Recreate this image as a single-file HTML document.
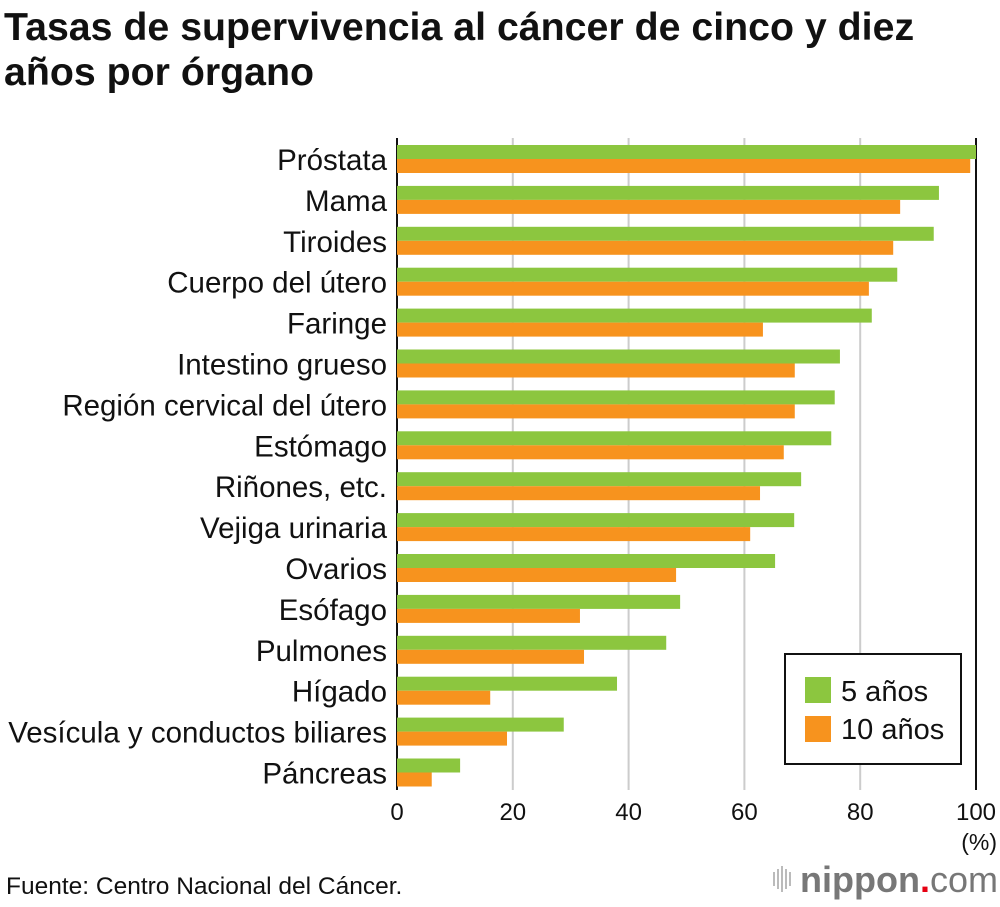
<!DOCTYPE html>
<html><head><meta charset="utf-8"><style>
body{margin:0;background:#fff;width:1000px;height:902px;overflow:hidden;font-family:"Liberation Sans",sans-serif}
</style></head><body>
<svg width="1000" height="902" xmlns="http://www.w3.org/2000/svg" id="svg">
<text x="4" y="40" font-size="39.3" font-weight="bold" fill="#111">Tasas de supervivencia al cáncer de cinco y diez</text>
<text x="4" y="85" font-size="39.3" font-weight="bold" fill="#111">años por órgano</text>
<g id="grid"></g><g id="bars"></g><g id="labels"></g><g id="ticks"></g>
<text x="997" y="850" font-size="23" text-anchor="end" fill="#111">(%)</text>
<g>
<rect x="785" y="654" width="176" height="110" fill="#fff" stroke="#111" stroke-width="2"/>
<rect x="805" y="677" width="26" height="26" fill="#8cc63f"/>
<text x="841" y="701" font-size="29" fill="#111">5 años</text>
<rect x="805" y="716" width="26" height="26" fill="#f7931e"/>
<text x="841" y="739" font-size="29" fill="#111">10 años</text>
</g>
<text x="6" y="894" font-size="24.5" fill="#111">Fuente: Centro Nacional del Cáncer.</text>
<g>
<rect x="773" y="872" width="2" height="14" fill="#bbb"/><rect x="777" y="869" width="2" height="20" fill="#bbb"/><rect x="781" y="866" width="2" height="26" fill="#bbb"/><rect x="785" y="869" width="2" height="20" fill="#bbb"/><rect x="789" y="872" width="2" height="14" fill="#bbb"/>
<text x="800" y="892" font-size="36" font-weight="bold" fill="#777">nippon<tspan fill="#e60012">.</tspan><tspan font-weight="normal">com</tspan></text>
</g>
</svg>
<script>
const categories=["Próstata","Mama","Tiroides","Cuerpo del útero","Faringe","Intestino grueso","Región cervical del útero","Estómago","Riñones, etc.","Vejiga urinaria","Ovarios","Esófago","Pulmones","Hígado","Vesícula y conductos biliares","Páncreas"];
const five=[100,93.6,92.7,86.4,82.0,76.5,75.6,75.0,69.8,68.6,65.3,48.9,46.5,38.0,28.8,10.9];
const ten=[99.0,86.9,85.7,81.5,63.2,68.7,68.7,66.8,62.7,61.0,48.2,31.6,32.3,16.1,19.0,6.0];
const ticks=[0,20,40,60,80,100];
const NS="http://www.w3.org/2000/svg";
const x0=397,x1=976,top0=145,pitch=40.9;
function xs(v){return x0+(x1-x0)*v/100;}
function mk(g,t,a){const e=document.createElementNS(NS,t);for(const k in a)e.setAttribute(k,a[k]);document.getElementById(g).appendChild(e);return e;}
ticks.forEach((t,i)=>{
 const l=mk('grid','line',{x1:xs(t),x2:xs(t),y1:138,y2:790,stroke:(t===0||t===100)?'#111':'#ccc','stroke-width':2});
 
 
 const tx=mk('ticks','text',{x:xs(t),y:820,'font-size':24,'text-anchor':'middle',fill:'#111'});
 tx.textContent=t;
 
 
});
categories.forEach((c,i)=>{
 const y=top0+i*pitch;
 const g=mk('bars','rect',{x:x0,y:y,width:xs(five[i])-x0,height:14,fill:'#8cc63f'});
 
 
 const o=mk('bars','rect',{x:x0,y:y+14,width:xs(ten[i])-x0,height:14,fill:'#f7931e'});
 
 
 const t=mk('labels','text',{x:387,y:y+25,'font-size':29.5,'text-anchor':'end',fill:'#111'});
 t.textContent=c;
 
 
});
</script>
</body></html>
